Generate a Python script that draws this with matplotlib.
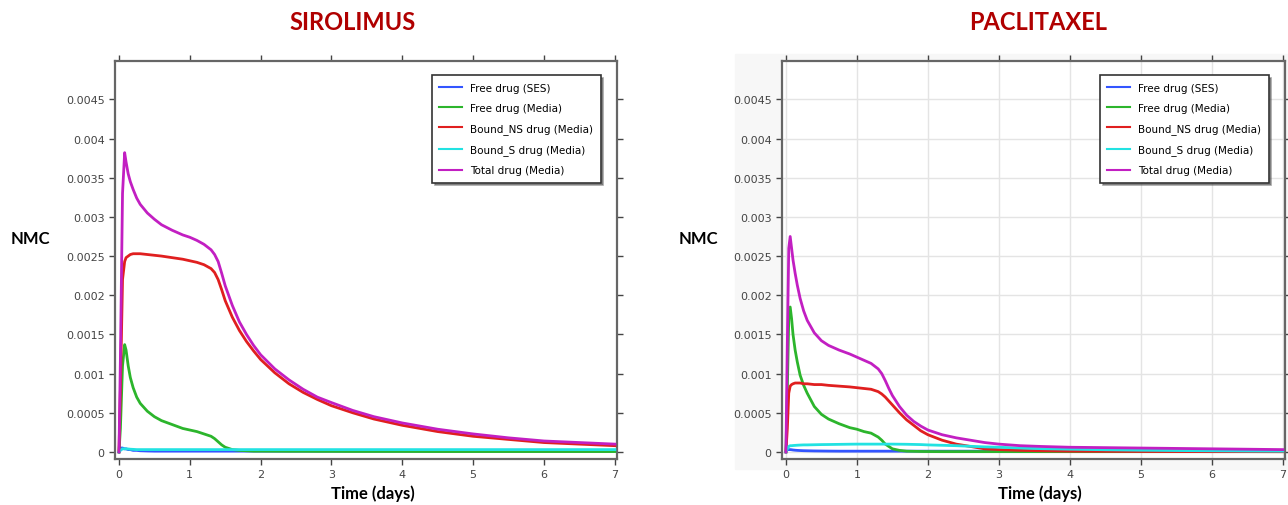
import matplotlib.pyplot as plt
from matplotlib.patches import Rectangle
import numpy as np

labels = ['Free drug (SES)', 'Free drug (Media)', 'Bound_NS drug (Media)',
          'Bound_S drug (Media)', 'Total drug (Media)']
colors = ['#3355ff', '#2cb52c', '#e01f1f', '#22e2e2', '#c21fc2']

# Sirolimus
t_s = [0, 0.02, 0.05, 0.08, 0.1, 0.13, 0.16, 0.2, 0.25, 0.3, 0.4, 0.5, 0.6, 0.75,
       0.9, 1.0, 1.1, 1.2, 1.3, 1.35, 1.4, 1.45, 1.5, 1.6, 1.7, 1.8, 1.9, 2.0,
       2.2, 2.4, 2.6, 2.8, 3.0, 3.3, 3.6, 4.0, 4.5, 5.0, 5.5, 6.0, 6.5, 7.0]
tot_s = [0, 0.0012, 0.0033, 0.00382, 0.0037, 0.00355, 0.00345, 0.00335, 0.00324,
         0.00316, 0.00305, 0.00297, 0.0029, 0.00283, 0.00277, 0.00274, 0.0027,
         0.00265, 0.00258, 0.00252, 0.00243, 0.00228, 0.00212, 0.00187, 0.00166,
         0.0015, 0.00136, 0.00124, 0.00106, 0.00092, 0.0008, 0.0007, 0.00063,
         0.00053, 0.00045, 0.00037, 0.00029, 0.00023, 0.00018, 0.00014, 0.00012, 0.0001]
bns_s = [0, 0.0008, 0.0022, 0.00243, 0.00248, 0.0025, 0.00252, 0.00253, 0.00253,
         0.00253, 0.00252, 0.00251, 0.0025, 0.00248, 0.00246, 0.00244, 0.00242,
         0.00239, 0.00234, 0.00229, 0.0022, 0.00207, 0.00193, 0.00172, 0.00155,
         0.00141, 0.00129, 0.00118, 0.00101, 0.00087, 0.00076, 0.00067, 0.00059,
         0.0005, 0.00042, 0.00034, 0.00026, 0.0002, 0.00016, 0.00012, 0.0001, 0.00008]
free_s = [0, 0.0003, 0.0011, 0.00137, 0.0013, 0.0011, 0.00095, 0.00082, 0.0007,
          0.00062, 0.00052, 0.00045, 0.0004, 0.00035, 0.0003, 0.00028, 0.00026,
          0.00023, 0.0002, 0.00017, 0.00013, 0.00009, 0.00006, 0.00003, 0.00002,
          0.000015, 0.00001, 0.00001, 0.000009, 0.000008, 0.000008, 0.000007,
          0.000007, 0.000006, 0.000006, 0.000006, 0.000005, 0.000005, 0.000005,
          0.000005, 0.000005, 0.000005]
ses_s = [0, 0.00005, 0.00005, 0.00004, 0.00004, 0.00003, 0.00003, 0.00002, 0.00002,
         0.000015, 0.000012, 0.00001, 0.00001, 0.00001, 0.00001, 0.00001, 0.00001,
         0.00001, 0.00001, 0.00001, 0.00001, 0.00001, 0.00001, 0.00001, 0.00001,
         0.00001, 0.00001, 0.00001, 0.00001, 0.00001, 0.00001, 0.00001, 0.00001,
         0.00001, 0.00001, 0.00001, 0.00001, 0.00001, 0.00001, 0.00001, 0.00001, 0.00001]
bs_s = [0, 0.00002, 0.00004, 0.00004, 0.00004, 0.000038, 0.000035, 0.000033, 0.00003,
        0.00003, 0.00003, 0.00003, 0.00003, 0.00003, 0.00003, 0.00003, 0.00003,
        0.00003, 0.00003, 0.00003, 0.00003, 0.00003, 0.00003, 0.00003, 0.00003,
        0.00003, 0.00003, 0.00003, 0.00003, 0.00003, 0.00003, 0.00003, 0.00003,
        0.00003, 0.00003, 0.00003, 0.00003, 0.00003, 0.00003, 0.00003, 0.00003, 0.00003]

# Paclitaxel
t_p = [0, 0.02, 0.04, 0.06, 0.08, 0.1, 0.13, 0.16, 0.2, 0.25, 0.3, 0.4, 0.5, 0.6,
       0.75, 0.9, 1.0, 1.1, 1.2, 1.3, 1.35, 1.4, 1.45, 1.5, 1.6, 1.7, 1.8, 1.9,
       2.0, 2.2, 2.4, 2.6, 2.8, 3.0, 3.3, 3.6, 4.0, 4.5, 5.0, 5.5, 6.0, 6.5, 7.0]
tot_p = [0, 0.0014, 0.0026, 0.00275, 0.0026, 0.00245, 0.00228, 0.00213, 0.00196,
         0.0018, 0.00168, 0.00152, 0.00142, 0.00136, 0.0013, 0.00125, 0.00121,
         0.00117, 0.00113, 0.00106, 0.001, 0.00091, 0.00081, 0.00072, 0.00058,
         0.00047, 0.00039, 0.00033, 0.00028, 0.00022, 0.00018, 0.00015, 0.00012,
         0.0001, 0.00008, 0.00007, 0.00006, 0.000055, 0.00005, 0.000045, 0.00004,
         0.000035, 0.00003]
free_p = [0, 0.0008, 0.0017, 0.00185, 0.0017, 0.0015, 0.0013, 0.00115, 0.00098,
          0.00085, 0.00075, 0.00058, 0.00048, 0.00042, 0.00036, 0.00031, 0.00029,
          0.00026, 0.00024, 0.00019, 0.00015, 0.0001, 0.00007, 0.00004, 0.00002,
          0.00001, 0.000008, 0.000006, 0.000005, 0.000004, 0.000004, 0.000004,
          0.000004, 0.000004, 0.000004, 0.000004, 0.000004, 0.000004, 0.000004,
          0.000004, 0.000004, 0.000004, 0.000004]
bns_p = [0, 0.0003, 0.00075, 0.00084, 0.00086, 0.00087, 0.00088, 0.00088, 0.00088,
         0.00087, 0.00087, 0.00086, 0.00086, 0.00085, 0.00084, 0.00083, 0.00082,
         0.00081, 0.0008, 0.00077, 0.00074, 0.0007, 0.00065, 0.0006, 0.0005,
         0.00041, 0.00034, 0.00027, 0.00022, 0.00015, 0.0001, 0.00007, 0.00004,
         0.00003, 0.00002, 0.000015, 0.00001, 0.000008, 0.000006, 0.000005,
         0.000004, 0.000004, 0.000003]
bs_p = [0, 0.00004, 0.00007, 0.00008, 0.00008, 0.000082, 0.000084, 0.000086, 0.000088,
        0.00009, 0.00009, 0.000092, 0.000094, 0.000095, 0.000097, 0.000099, 0.0001,
        0.0001, 0.0001, 0.0001, 0.0001, 0.0001, 0.0001, 0.0001, 0.000099, 0.000098,
        0.000096, 0.000094, 0.00009, 0.000085, 0.00008, 0.000072, 0.000065, 0.00006,
        0.00005, 0.000042, 0.000035, 0.000028, 0.000022, 0.000018, 0.000015,
        0.000012, 0.00001]
ses_p = [0, 0.00003, 0.00003, 0.00003, 0.000028, 0.000025, 0.000022, 0.00002,
         0.000018, 0.000016, 0.000015, 0.000013, 0.000012, 0.000011, 0.00001,
         0.00001, 0.00001, 0.00001, 0.00001, 0.00001, 0.00001, 0.00001, 0.00001,
         0.00001, 0.00001, 0.00001, 0.00001, 0.00001, 0.00001, 0.00001, 0.00001,
         0.00001, 0.00001, 0.00001, 0.00001, 0.00001, 0.00001, 0.00001, 0.00001,
         0.00001, 0.00001, 0.00001, 0.00001]

yticks = [0, 0.0005, 0.001, 0.0015, 0.002, 0.0025, 0.003, 0.0035, 0.004, 0.0045]
ytick_labels = ['0', '0.0005', '0.001', '0.0015', '0.002', '0.0025', '0.003',
                '0.0035', '0.004', '0.0045']
xticks = [0, 1, 2, 3, 4, 5, 6, 7]

fig = plt.figure(figsize=(12.88, 5.06), dpi=100)
fig.patches.append(Rectangle((0.571, 0.071), 0.429, 0.82, transform=fig.transFigure,
                             color='#f7f7f7', zorder=-10))

panels = [
    ('SIROLIMUS', [0.0893, 0.0909, 0.3897, 0.7866], t_s,
     [ses_s, free_s, bns_s, bs_s, tot_s], False, 0.274, 0.0233),
    ('PACLITAXEL', [0.6071, 0.0909, 0.3905, 0.7866], t_p,
     [ses_p, free_p, bns_p, bs_p, tot_p], True, 0.8063, 0.542),
]

for title, rect, t, series, grid, title_x, nmc_x in panels:
    ax = fig.add_axes(rect)
    order = [0, 1, 3, 2, 4]
    for i in order:
        ax.plot(t, series[i], color=colors[i], lw=2, label=labels[i], zorder=3 + i)
    ax.set_xlim(-0.056, 7.03)
    ax.set_ylim(-0.00009, 0.00499)
    ax.set_xticks(xticks)
    ax.set_yticks(yticks)
    ax.set_yticklabels(ytick_labels)
    ax.tick_params(labelsize=8, colors='#444444', length=4, width=1)
    ax.tick_params(top=True, right=True)
    for s in ax.spines.values():
        s.set_color('#666666')
        s.set_linewidth(1.6)
    if grid:
        ax.grid(True, color='#e4e4e4', lw=1)
        ax.set_facecolor('white')
    handles, labs = ax.get_legend_handles_labels()
    hmap = dict(zip(labs, handles))
    leg = ax.legend([hmap[l] for l in labels], labels, loc='upper right',
                    bbox_to_anchor=(0.978, 0.977), fontsize=7.5, frameon=True,
                    fancybox=False, shadow=True, edgecolor='#333333',
                    handlelength=2.2, labelspacing=0.98, borderpad=0.7)
    leg.get_frame().set_linewidth(1.2)
    for line in leg.get_lines():
        line.set_linewidth(1.5)
    fig.text(title_x, 0.955, title, ha='center', va='center', fontsize=17,
             fontweight='bold', color='#b00000', family='Lato')
    fig.text(nmc_x, 0.528, 'NMC', ha='center', va='center', fontsize=12,
             fontweight='bold', family='Lato')
    fig.text(rect[0] + 0.2, 0.024, 'Time (days)', ha='center', va='center',
             fontsize=12, fontweight='bold', family='Lato')

fig.savefig('out.png', dpi=100)
